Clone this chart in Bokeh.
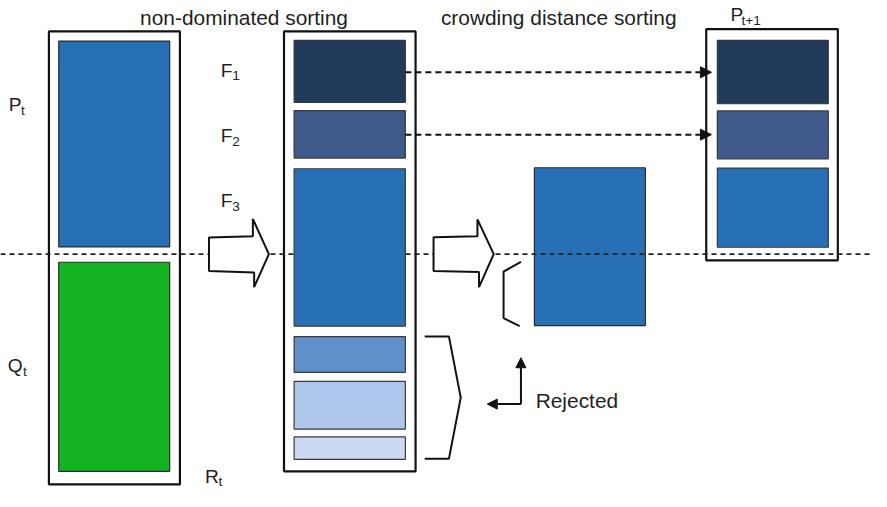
from bokeh.plotting import figure
from bokeh.models import Range1d, Arrow, NormalHead
from bokeh.core.properties import value
from bokeh.embed import file_html
from bokeh.resources import INLINE

# ---- data (reference pixel geometry of the NSGA-II diagram) ----
S = 871 / 887.0  # screen pixels per data unit

# left population box R_t = P_t + Q_t
pop_labels = ["P_t", "Q_t"]
pop_left = [59.3, 59.3]
pop_right = [172.3, 172.3]
pop_top = [45.7, 272.7]
pop_bottom = [257.0, 487.3]
pop_colors = ["#2870B5", "#14B322"]

# non-dominated fronts F1..F6
front_names = ["F1", "F2", "F3", "F4", "F5", "F6"]
front_top = [45.0, 117.0, 176.7, 349.0, 395.0, 452.0]
front_bottom = [108.7, 165.7, 338.3, 385.7, 444.0, 475.0]
front_colors = ["#213A5A", "#3F5A8A", "#2870B5", "#5F90C9", "#ADC6EA", "#CDD8F3"]
front_left, front_right = 299.0, 412.3

# next population P_{t+1}
next_top = [45.0, 117.3, 176.0]
next_bottom = [110.0, 166.7, 257.3]
next_colors = ["#213A5A", "#3F5A8A", "#2870B5"]
next_left, next_right = 730.0, 843.0

# crowding distance block
crowd_box = dict(left=543.7, right=656.7, top=175.7, bottom=337.7)

# outer boxes: left, middle, right
box_left = [49.3, 288.7, 718.7]
box_right = [182.7, 422.7, 852.7]
box_top = [35.7, 35.7, 33.3]
box_bottom = [500.7, 487.3, 270.7]

split_y = 264.3

p = figure(width=871, height=491, x_range=Range1d(0, 887), y_range=Range1d(508, 4),
           output_backend="svg", toolbar_location=None,
           x_axis_location=None, y_axis_location=None, min_border=0)
p.grid.visible = False
p.outline_line_color = None
p.background_fill_color = "white"

# outer boxes (unfilled)
p.quad(left=box_left, right=box_right, top=box_top, bottom=box_bottom,
       fill_color=None, line_color="#111111", line_width=2.2)

# crowding block (under dashed line)
p.quad(left=[crowd_box["left"]], right=[crowd_box["right"]], top=[crowd_box["top"]],
       bottom=[crowd_box["bottom"]], fill_color="#2870B5", line_color="#2b2b2b", line_width=1.2)

# horizontal dashed split line
p.line(x=[0, 887], y=[split_y, split_y], line_color="#222222", line_width=1.8, line_dash="5 4")

# population rects
p.quad(left=pop_left, right=pop_right, top=pop_top, bottom=pop_bottom,
       fill_color=pop_colors, line_color="#2b2b2b", line_width=1.2)
# fronts
p.quad(left=[front_left] * len(front_top), right=[front_right] * len(front_top),
       top=front_top, bottom=front_bottom, fill_color=front_colors,
       line_color="#3a3a3a", line_width=1.2)
# next population
p.quad(left=[next_left] * 3, right=[next_right] * 3, top=next_top, bottom=next_bottom,
       fill_color=next_colors, line_color="#3a3a3a", line_width=1.2)

# block arrows
arrow1_x = [212.3, 257.0, 257.0, 273.3, 258.3, 258.3, 212.3]
arrow1_y = [247.3, 246.0, 228.3, 264.3, 298.3, 283.3, 281.7]
arrow2_x = [441.0, 485.7, 485.7, 502.3, 487.3, 487.3, 441.0]
arrow2_y = [247.0, 246.0, 228.7, 264.3, 298.3, 282.7, 281.7]
for ax, ay in ((arrow1_x, arrow1_y), (arrow2_x, arrow2_y)):
    p.patch(x=ax, y=ay, fill_color="white", line_color="#111111", line_width=2)

# brackets
small_br_x = [530.0, 512.3, 512.3, 528.7]
small_br_y = [272.3, 282.3, 330.0, 338.3]
big_br_x = [432.0, 456.7, 468.7, 456.7, 432.0]
big_br_y = [349.0, 349.0, 411.7, 474.3, 474.3]
p.line(x=small_br_x, y=small_br_y, line_color="#111111", line_width=2)
p.line(x=big_br_x, y=big_br_y, line_color="#111111", line_width=2)

# dashed arrows F1,F2 -> P_{t+1}
for yy in (77.7, 141.7):
    p.add_layout(Arrow(end=NormalHead(size=11, fill_color="#111111", line_color="#111111", line_width=1),
                       x_start=front_right, y_start=yy, x_end=724.0, y_end=yy,
                       line_color="#111111", line_width=2, line_dash="6 4"))

# rejected arrows
rej_x, rej_y = 530.0, 418.3
p.add_layout(Arrow(end=NormalHead(size=10, fill_color="#111111", line_color="#111111", line_width=1),
                   x_start=rej_x, y_start=rej_y, x_end=rej_x, y_end=370.7,
                   line_color="#111111", line_width=2))
p.add_layout(Arrow(end=NormalHead(size=10, fill_color="#111111", line_color="#111111", line_width=1),
                   x_start=rej_x, y_start=rej_y, x_end=495.7, y_end=rej_y,
                   line_color="#111111", line_width=2))

# ---- texts ----
FONT = value("Liberation Sans")
TC = "#231F20"
big = f"{21.3 * S:.1f}px"
lab = f"{19.6 * S:.1f}px"
sub = f"{14.0 * S:.1f}px"

def txt(x, y, s, size, align="left"):
    p.text(x=[x], y=[y], text=[s], text_font=FONT, text_font_size=size,
           text_color=TC, text_align=align, text_baseline="alphabetic")

txt(248.0, 21.7, "non-dominated sorting", big, "center")
txt(568.5, 21.7, "crowding distance sorting", big, "center")
txt(545.0, 415.0, "Rejected", big)

# main letters with subscripts
main_labels = [("P", "t", 8.3, 110.7, 21.0, 116.7),
               ("Q", "t", 7.3, 379.0, 23.0, 385.0),
               ("R", "t", 208.3, 493.0, 222.0, 498.0),
               ("F", "1", 224.3, 75.7, 236.0, 81.0),
               ("F", "2", 224.3, 142.3, 236.0, 148.5),
               ("F", "3", 224.3, 209.0, 236.0, 215.5),
               ("P", "t+1", 743.3, 18.3, 754.5, 25.0)]
for m, s_, mx, my, sx, sy in main_labels:
    txt(mx, my, m, lab)
    txt(sx, sy, s_, sub)

open("out.html", "w").write(file_html(p, INLINE))
